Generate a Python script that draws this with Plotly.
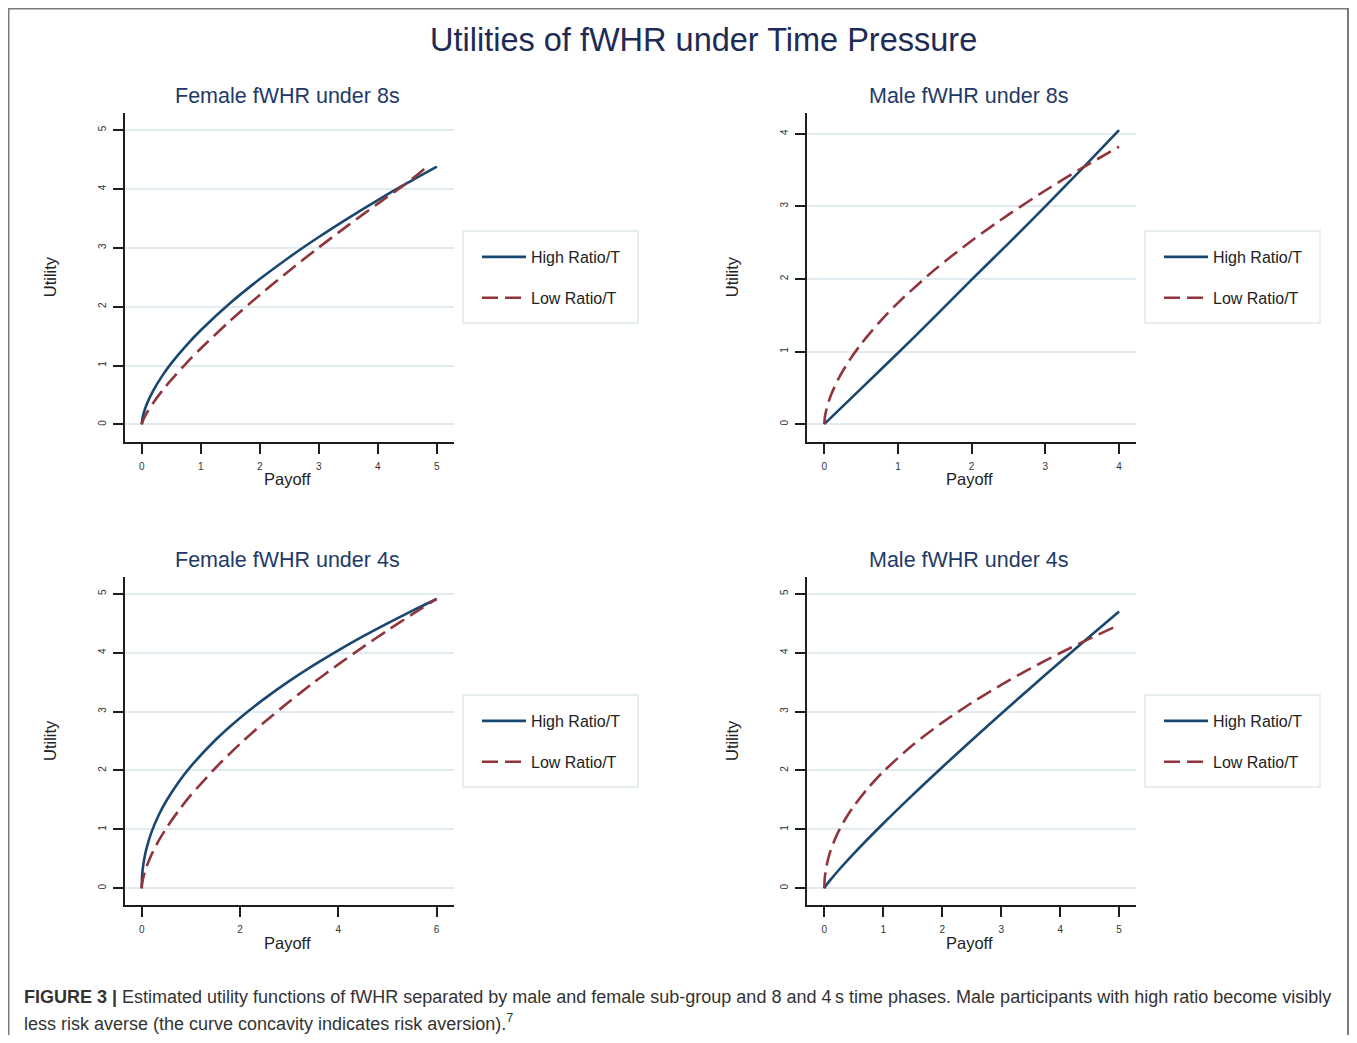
import plotly.graph_objects as go

# the page body has an 8px margin on every side; the figure is sized so the page never scrolls
PAGE_W, PAGE_H = 1357, 1043
OFF = 8
W, H = PAGE_W - 2 * OFF, PAGE_H - 2 * OFF

# ---------------- data ----------------
# Female fWHR under 8s
fa_high_x = [0, 0.02, 0.05, 0.1, 0.2, 0.35, 0.5, 0.75, 1, 1.5, 2, 2.5, 3, 3.5, 4, 4.5, 5]
fa_high_y = [0, 0.138, 0.245, 0.379, 0.584, 0.829, 1.037, 1.336, 1.60, 2.063, 2.469, 2.840, 3.183, 3.505, 3.811, 4.102, 4.38]
fa_low_x = [0, 0.02, 0.05, 0.1, 0.2, 0.35, 0.5, 0.75, 1, 1.5, 2, 2.5, 3, 3.5, 4, 4.5, 4.86]
fa_low_y = [0, 0.064, 0.128, 0.219, 0.374, 0.575, 0.756, 1.034, 1.29, 1.763, 2.200, 2.612, 3.006, 3.385, 3.751, 4.107, 4.40]

# Male fWHR under 8s
ma_high_x = [0, 0.5, 1, 1.5, 2, 2.5, 3, 3.5, 4]
ma_high_y = [0, 0.49, 0.98, 1.48, 1.99, 2.49, 3.0, 3.52, 4.05]
ma_low_x = [0, 0.01, 0.03, 0.06, 0.1, 0.2, 0.35, 0.5, 0.75, 1, 1.5, 2, 2.5, 3, 3.5, 4]
ma_low_y = [0, 0.107, 0.206, 0.311, 0.422, 0.639, 0.892, 1.104, 1.406, 1.67, 2.128, 2.526, 2.886, 3.218, 3.528, 3.821]

# Female fWHR under 4s
fb_high_x = [0, 0.01, 0.03, 0.06, 0.1, 0.2, 0.35, 0.5, 0.75, 1, 1.5, 2, 2.5, 3, 3.5, 4, 4.5, 5, 5.5, 6]
fb_high_y = [0, 0.225, 0.382, 0.533, 0.682, 0.953, 1.248, 1.482, 1.802, 2.07, 2.517, 2.891, 3.219, 3.515, 3.786, 4.038, 4.274, 4.496, 4.708, 4.91]
fb_low_x = [0, 0.01, 0.03, 0.06, 0.1, 0.2, 0.35, 0.5, 0.75, 1, 1.5, 2, 2.5, 3, 3.5, 4, 4.5, 5, 5.5, 6]
fb_low_y = [0, 0.086, 0.172, 0.266, 0.368, 0.571, 0.813, 1.019, 1.317, 1.58, 2.042, 2.450, 2.822, 3.167, 3.492, 3.800, 4.094, 4.376, 4.648, 4.912]

# Male fWHR under 4s
mb_high_x = [0, 0.03, 0.1, 0.25, 0.5, 1, 1.5, 2, 2.5, 3, 3.5, 4, 4.5, 5]
mb_high_y = [0, 0.047, 0.138, 0.315, 0.589, 1.10, 1.586, 2.055, 2.514, 2.963, 3.405, 3.841, 4.272, 4.697]
mb_low_x = [0, 0.01, 0.03, 0.06, 0.1, 0.2, 0.35, 0.5, 0.75, 1, 1.5, 2, 2.5, 3, 3.5, 4, 4.5, 5]
mb_low_y = [0, 0.193, 0.336, 0.477, 0.618, 0.877, 1.164, 1.394, 1.712, 1.98, 2.431, 2.812, 3.148, 3.452, 3.732, 3.993, 4.238, 4.470]

series_names = ["High Ratio/T", "Low Ratio/T"]
panel_titles = ["Female fWHR under 8s", "Male fWHR under 8s", "Female fWHR under 4s", "Male fWHR under 4s"]
x_ticks = [[0, 1, 2, 3, 4, 5], [0, 1, 2, 3, 4], [0, 2, 4, 6], [0, 1, 2, 3, 4, 5]]
y_ticks = [[0, 1, 2, 3, 4, 5], [0, 1, 2, 3, 4], [0, 1, 2, 3, 4, 5], [0, 1, 2, 3, 4, 5]]
main_title = "Utilities of fWHR under Time Pressure"
x_title = "Payoff"
y_title = "Utility"
caption_1 = ("<b>FIGURE 3 |</b> Estimated utility functions of fWHR separated by male and female sub-group "
             "and 8 and 4\u2009s time phases. Male participants with high ratio become visibly")
caption_2 = "less risk averse (the curve concavity indicates risk aversion).<sup>7</sup>"

# ---------------- styling / layout ----------------
BLUE = "#1a476f"
RED = "#90353b"
GRID = "#e2ebef"
AXIS = "#1e1e1e"
NAVY = "#1f3a66"

def px_x(p):
    """page pixel x -> paper"""
    return (p - OFF) / W

def px_y(p):
    """page pixel y -> paper"""
    return 1 - (p - OFF) / H

# pixel geometry of each panel (page px): (left, right, top, bottom), x range, y range
panels = [
    dict(box=(125, 454, 113, 441.5), xr=[-0.283, 5.29], yr=[-0.29, 5.29]),
    dict(box=(807, 1136, 113, 441.5), xr=[-0.234, 4.23], yr=[-0.239, 4.285]),
    dict(box=(125, 454, 577, 905), xr=[-0.339, 6.353], yr=[-0.283, 5.283]),
    dict(box=(807, 1136, 577, 905), xr=[-0.293, 5.286], yr=[-0.283, 5.283]),
]
data = [
    (fa_high_x, fa_high_y, fa_low_x, fa_low_y),
    (ma_high_x, ma_high_y, ma_low_x, ma_low_y),
    (fb_high_x, fb_high_y, fb_low_x, fb_low_y),
    (mb_high_x, mb_high_y, mb_low_x, mb_low_y),
]

fig = go.Figure()
layout = dict(
    width=W, height=H,
    margin=dict(l=0, r=0, t=0, b=0),
    paper_bgcolor="white", plot_bgcolor="white",
    font=dict(family="Liberation Sans, Arial, sans-serif", color="#222"),
    shapes=[], annotations=[],
)

for i, (pan, (hx, hy, lx, ly)) in enumerate(zip(panels, data)):
    n = "" if i == 0 else str(i + 1)
    leg = "legend" if i == 0 else f"legend{i + 1}"
    fig.add_trace(go.Scatter(
        x=hx, y=hy, mode="lines", name=series_names[0],
        line=dict(color=BLUE, width=2.6, shape="spline", smoothing=0.8),
        xaxis=f"x{n}", yaxis=f"y{n}", legend=leg, legendgroup=f"h{i}", showlegend=True))
    fig.add_trace(go.Scatter(
        x=lx, y=ly, mode="lines", name=series_names[1],
        line=dict(color=RED, width=2.6, dash="16px,7px", shape="spline", smoothing=0.8),
        xaxis=f"x{n}", yaxis=f"y{n}", legend=leg, legendgroup=f"l{i}", showlegend=True))

    l, r, t, b = pan["box"]
    layout[f"xaxis{n}"] = dict(
        domain=[px_x(l), px_x(r)], range=pan["xr"], anchor=f"y{n}",
        showline=True, linecolor=AXIS, linewidth=2, showgrid=False, zeroline=False,
        ticks="outside", ticklen=10, tickwidth=2, tickcolor=AXIS,
        tickvals=x_ticks[i], tickfont=dict(size=10, color="#333"), ticklabelstandoff=4,
        fixedrange=True)
    layout[f"yaxis{n}"] = dict(
        domain=[px_y(b), px_y(t)], range=pan["yr"], anchor=f"x{n}",
        showline=True, linecolor=AXIS, linewidth=2, showgrid=True, gridcolor=GRID, gridwidth=2,
        zeroline=False, ticks="outside", ticklen=10, tickwidth=2, tickcolor=AXIS,
        tickvals=y_ticks[i], tickangle=-90, tickfont=dict(size=10, color="#333"),
        ticklabelstandoff=3, fixedrange=True)

    cx = (l + r) / 2 - 2
    # panel title
    layout["annotations"].append(dict(
        text=panel_titles[i], x=px_x(cx), y=px_y(t - 17), xref="paper", yref="paper",
        showarrow=False, font=dict(size=21.5, color=NAVY), xanchor="center", yanchor="middle"))
    # axis titles
    layout["annotations"].append(dict(
        text=x_title, x=px_x(cx), y=px_y(b + 37.5), xref="paper", yref="paper",
        showarrow=False, font=dict(size=16.5, color="#222"), xanchor="center", yanchor="middle"))
    layout["annotations"].append(dict(
        text=y_title, x=px_x(l - 75), y=px_y((t + b) / 2), xref="paper", yref="paper",
        showarrow=False, textangle=-90, font=dict(size=16.5, color="#222"),
        xanchor="center", yanchor="middle"))

    # legend box and legend
    lx0 = r + 9
    ly0 = t + 118
    layout["shapes"].append(dict(
        type="rect", xref="paper", yref="paper",
        x0=px_x(lx0), x1=px_x(lx0 + 175), y0=px_y(ly0), y1=px_y(ly0 + 92),
        line=dict(color="#dfe9ee", width=1.5), fillcolor="rgba(0,0,0,0)"))
    layout[leg] = dict(
        x=px_x(lx0 + 14), y=px_y(ly0 + 9), xanchor="left", yanchor="top",
        bgcolor="rgba(0,0,0,0)", borderwidth=0, itemwidth=44,
        font=dict(size=16, color="#222"), traceorder="grouped", tracegroupgap=17,
        itemclick=False, itemdoubleclick=False)

# main title
layout["annotations"].append(dict(
    text=main_title, x=px_x(704), y=px_y(40), xref="paper", yref="paper", showarrow=False,
    font=dict(size=32.5, color="#1d2b55"), xanchor="center", yanchor="middle"))
# caption
layout["annotations"].append(dict(
    text=caption_1, x=px_x(22), y=px_y(997), xref="paper", yref="paper", showarrow=False,
    font=dict(size=18, color="#333"), xanchor="left", yanchor="middle"))
layout["annotations"].append(dict(
    text=caption_2, x=px_x(22), y=px_y(1022), xref="paper", yref="paper", showarrow=False,
    font=dict(size=18, color="#333"), xanchor="left", yanchor="middle"))
# outer frame (left, top and right sides; bottom runs off the page)
layout["shapes"].append(dict(
    type="rect", xref="paper", yref="paper",
    x0=px_x(8.5), x1=px_x(1348), y0=px_y(1080), y1=px_y(8.5),
    line=dict(color="#7a7a7a", width=2), fillcolor="rgba(0,0,0,0)"))

fig.update_layout(**layout)
fig.write_html("out.html", config={"displayModeBar": False})
